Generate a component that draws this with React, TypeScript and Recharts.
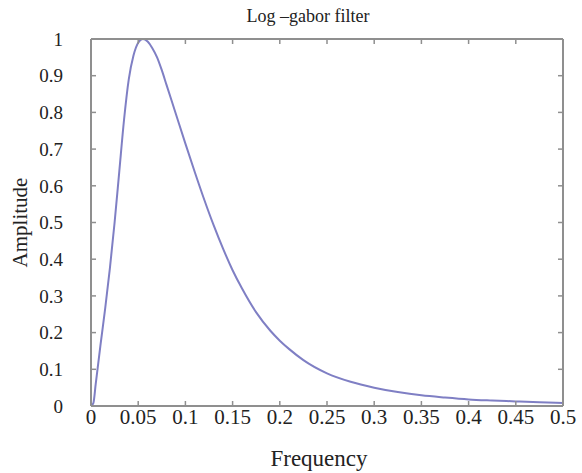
import React from 'react';
import { LineChart, Line, XAxis, YAxis } from 'recharts';

// values
const frequency = [
  0, 0.0025, 0.005, 0.01, 0.015, 0.02, 0.025, 0.03, 0.035, 0.04, 0.045, 0.05, 0.055,
  0.06, 0.065, 0.07, 0.075, 0.08, 0.09, 0.1, 0.11, 0.12, 0.13, 0.14, 0.15, 0.16,
  0.175, 0.19, 0.2, 0.21, 0.225, 0.25, 0.275, 0.3, 0.325, 0.35, 0.375, 0.4, 0.425,
  0.45, 0.475, 0.5,
];
const amplitude = [
  0, 0.008, 0.06, 0.165, 0.265, 0.375, 0.5, 0.64, 0.78, 0.89, 0.955, 0.99, 1.0,
  0.993, 0.975, 0.95, 0.915, 0.875, 0.795, 0.715, 0.637, 0.562, 0.492, 0.428, 0.37, 0.32,
  0.255, 0.205, 0.178, 0.155, 0.125, 0.089, 0.066, 0.05, 0.038, 0.029, 0.023, 0.018,
  0.015, 0.0125, 0.01, 0.008,
];
const xTicks = [0, 0.05, 0.1, 0.15, 0.2, 0.25, 0.3, 0.35, 0.4, 0.45, 0.5];
const yTicks = [0, 0.1, 0.2, 0.3, 0.4, 0.5, 0.6, 0.7, 0.8, 0.9, 1];

const data = frequency.map((f, i) => ({ f, a: amplitude[i] }));

const font = "'Liberation Serif', serif";
const frame = '#8f8f8f';
const textColor = '#222';
const noTick = () => null;

export default function App() {
  return (
    <div style={{ position: 'absolute', left: 0, top: 0, background: '#fff', fontFamily: font }}>
      <LineChart
        width={582}
        height={473}
        data={data}
        margin={{ top: 38, right: 0, bottom: 0, left: 0 }}
      >
        <XAxis
          dataKey="f"
          type="number"
          domain={[0, 0.5]}
          ticks={xTicks}
          interval={0}
          height={67}
          tickSize={-5}
          tickMargin={8}
          axisLine={{ stroke: frame, strokeWidth: 2 }}
          tickLine={{ stroke: frame, strokeWidth: 1.5 }}
          tick={{ fill: textColor, fontSize: 21, style: { fontFamily: font } }}
          label={{
            value: 'Frequency',
            position: 'insideBottom',
            offset: 7,
            dx: -8,
            style: { fill: textColor, fontSize: 23, fontFamily: font },
          }}
        />
        <XAxis
          xAxisId="top"
          orientation="top"
          dataKey="f"
          type="number"
          domain={[0, 0.5]}
          ticks={xTicks}
          interval={0}
          height={1}
          tickSize={-5}
          axisLine={{ stroke: frame, strokeWidth: 2 }}
          tickLine={{ stroke: frame, strokeWidth: 1.5 }}
          tick={noTick}
          label={{
            value: 'Log \u2013gabor filter',
            position: 'top',
            offset: 16,
            dx: -19,
            style: { fill: textColor, fontSize: 18, fontFamily: font },
          }}
        />
        <YAxis
          type="number"
          domain={[0, 1]}
          ticks={yTicks}
          interval={0}
          width={91}
          tickSize={-5}
          tickMargin={33}
          axisLine={{ stroke: frame, strokeWidth: 2 }}
          tickLine={{ stroke: frame, strokeWidth: 1.5 }}
          tick={{ fill: textColor, fontSize: 19, style: { fontFamily: font } }}
          label={{
            value: 'Amplitude',
            angle: -90,
            position: 'insideLeft',
            offset: 20,
            style: { fill: textColor, fontSize: 21, fontFamily: font, textAnchor: 'middle' },
          }}
        />
        <YAxis
          yAxisId="right"
          orientation="right"
          type="number"
          domain={[0, 1]}
          ticks={yTicks}
          interval={0}
          width={19}
          tickSize={-5}
          axisLine={{ stroke: frame, strokeWidth: 2 }}
          tickLine={{ stroke: frame, strokeWidth: 1.5 }}
          tick={noTick}
        />
        {/* invisible series tying the mirror axes (top, right) into the chart */}
        <Line
          xAxisId="top"
          yAxisId="right"
          dataKey="a"
          stroke="none"
          dot={false}
          activeDot={false}
          legendType="none"
          isAnimationActive={false}
        />
        <Line
          dataKey="a"
          type="monotone"
          stroke="#7f7fc4"
          strokeWidth={2}
          dot={false}
          isAnimationActive={false}
        />
      </LineChart>
    </div>
  );
}
